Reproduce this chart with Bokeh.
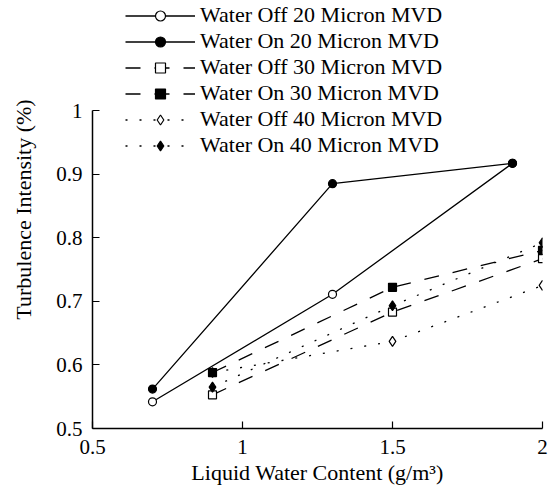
import math

from bokeh.plotting import figure
from bokeh.layouts import row
from bokeh.models import Range1d, FixedTicker, CustomJSTickFormatter, Legend, Label
from bokeh.embed import file_html
from bokeh.resources import INLINE

# Liquid water content (g/m^3) and turbulence intensity (%) per test series
lwc_20 = [0.7, 1.3, 1.9]
water_off_20 = [0.542, 0.711, 0.917]
water_on_20 = [0.562, 0.885, 0.917]

lwc_30 = [0.9, 1.5, 2.0]
water_off_30 = [0.553, 0.683, 0.767]
water_on_30 = [0.588, 0.722, 0.780]

lwc_40 = [0.9, 1.5, 2.0]
water_off_40 = [0.588, 0.637, 0.725]
water_on_40 = [0.565, 0.693, 0.792]

labels = [
    "Water Off 20 Micron MVD",
    "Water On 20 Micron MVD",
    "Water Off 30 Micron MVD",
    "Water On 30 Micron MVD",
    "Water Off 40 Micron MVD",
    "Water On 40 Micron MVD",
]

x_ticks = [0.5, 1.0, 1.5, 2.0]
y_ticks = [0.5, 0.6, 0.7, 0.8, 0.9, 1.0]
y_axis_span = (0.5, 1.0)

FONT = "Liberation Serif"

# Narrow strip on the left that carries the y-axis caption
cap = figure(
    width=40, height=487, x_range=Range1d(0, 1), y_range=Range1d(0, 1),
    x_axis_location=None, y_axis_location=None,
    output_backend="svg", toolbar_location=None, min_border=0,
)
cap.outline_line_color = None
cap.xgrid.visible = False
cap.ygrid.visible = False
cap.add_layout(Label(
    x=23, y=219, x_units="screen", y_units="screen",
    text="Turbulence Intensity (%)", angle=math.pi / 2,
    text_align="center", text_baseline="middle",
    text_font=FONT, text_font_size="22px", text_color="black",
))

# The frame reaches to the top of the canvas so the legend above the data
# area is not clipped; the y axis itself is bounded to 0.5 .. 1.0.
p = figure(
    width=512, height=487,
    x_range=Range1d(0.5, 2.0), y_range=Range1d(0.5, 0.5 + 0.5 * 428 / 318),
    output_backend="svg", toolbar_location=None,
    min_border_left=52, min_border_right=10,
    min_border_top=0, min_border_bottom=59,
)
p.outline_line_color = None
p.xgrid.visible = False
p.ygrid.visible = False
p.background_fill_color = "white"
p.border_fill_color = "white"

fmt = CustomJSTickFormatter(code="return tick.toFixed(1).replace(/\\.0$/, '');")
for ax, ticks in ((p.xaxis[0], x_ticks), (p.yaxis[0], y_ticks)):
    ax.ticker = FixedTicker(ticks=ticks)
    ax.formatter = fmt
    ax.minor_tick_line_color = None
    ax.major_tick_in = 7
    ax.major_tick_out = 0
    ax.axis_line_width = 1.5
    ax.major_tick_line_width = 1.2
    ax.axis_line_color = "black"
    ax.major_tick_line_color = "black"
    ax.major_label_text_font = FONT
    ax.major_label_text_font_size = "21px"
    ax.major_label_text_color = "black"
    ax.axis_label_text_font = FONT
    ax.axis_label_text_font_size = "22px"
    ax.axis_label_text_font_style = "normal"
    ax.axis_label_text_color = "black"

p.yaxis.bounds = y_axis_span
p.xaxis.axis_label = "Liquid Water Content (g/m\u00b3)"
p.xaxis.major_label_standoff = 11
p.xaxis.axis_label_standoff = 3
p.yaxis.major_label_standoff = 10

series = [
    (lwc_20, water_off_20, "solid", "circle", "white", 8),
    (lwc_20, water_on_20, "solid", "circle", "black", 8),
    (lwc_30, water_off_30, "15 14", "square", "white", 8),
    (lwc_30, water_on_30, "15 14", "square", "black", 8),
    (lwc_40, water_off_40, "2 12", "diamond", "white", 10),
    (lwc_40, water_on_40, "2 12", "diamond", "black", 10),
]

lines = []
for xs, ys, dash, marker, fill, size in series:
    lines.append(p.line(xs, ys, line_color="black", line_width=1.3, line_dash=dash))

# markers: open ones first so filled markers sit on top where they coincide
marks = [None] * 6
for i in (4, 2, 0, 1, 3, 5):
    xs, ys, dash, marker, fill, size = series[i]
    marks[i] = p.scatter(xs, ys, marker=marker, size=size, fill_color=fill,
                         line_color="black", line_width=1.2)

legend = Legend(
    items=[(lab, [lines[i], marks[i]]) for i, lab in enumerate(labels)],
    location=(33, 270),
    border_line_alpha=0, background_fill_alpha=0,
    label_text_font=FONT, label_text_font_size="22px",
    label_text_color="black",
    glyph_width=70, glyph_height=25, label_height=25,
    spacing=0, padding=0, margin=0, label_standoff=5,
)
p.add_layout(legend, "center")

layout = row(cap, p, spacing=0)
open("out.html", "w").write(file_html(layout, INLINE))
